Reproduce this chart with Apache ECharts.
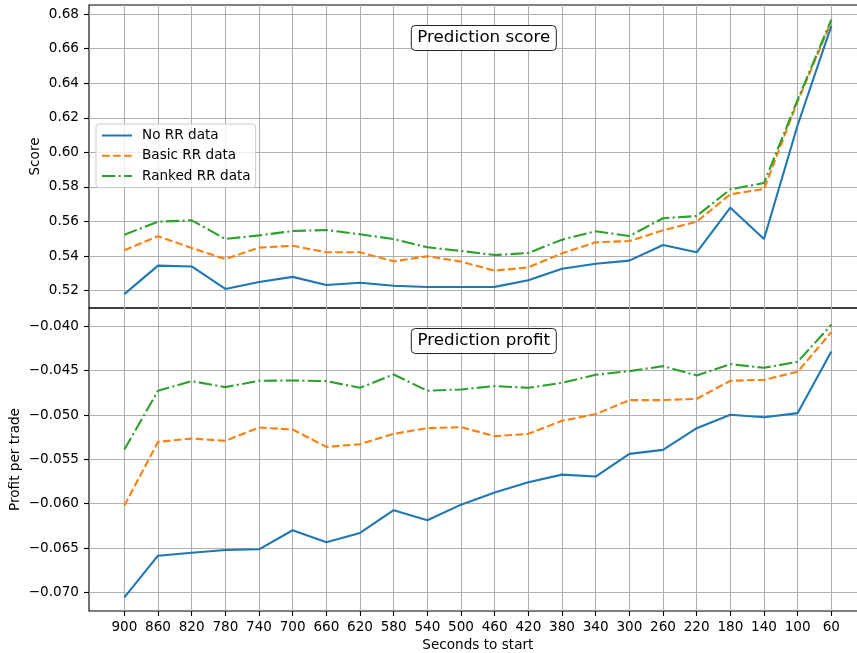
<!DOCTYPE html>
<html>
<head>
<meta charset="utf-8">
<script src="https://cdn.jsdelivr.net/npm/echarts@6/dist/echarts.min.js"></script>
<style>
  html, body { margin: 0; padding: 0; background: #fff; }
  #chart { width: 857px; height: 653px; }
</style>
</head>
<body>
<div id="chart"></div>
<script>
// Seconds before race start (x axis, shared by both panels)
const seconds = [900, 860, 820, 780, 740, 700, 660, 620, 580, 540, 500, 460, 420, 380, 340, 300, 260, 220, 180, 140, 100, 60];

// Prediction score per feature set
const scoreNoRR = [0.5180, 0.5345, 0.5340, 0.5210, 0.5250, 0.5280, 0.5233, 0.5246, 0.5229, 0.5221, 0.5221, 0.5222, 0.5260, 0.5327, 0.5356, 0.5374, 0.5464, 0.5422, 0.5680, 0.5499, 0.6158, 0.6731];
const scoreBasic = [0.5434, 0.5515, 0.5447, 0.5383, 0.5449, 0.5460, 0.5422, 0.5422, 0.5370, 0.5399, 0.5368, 0.5316, 0.5335, 0.5416, 0.5480, 0.5487, 0.5549, 0.5599, 0.5758, 0.5788, 0.6295, 0.6756];
const scoreRanked = [0.5524, 0.5599, 0.5607, 0.5499, 0.5520, 0.5545, 0.5551, 0.5526, 0.5499, 0.5451, 0.5430, 0.5406, 0.5418, 0.5495, 0.5544, 0.5516, 0.5619, 0.5632, 0.5786, 0.5823, 0.6305, 0.6767];

// Profit per trade per feature set
const profitNoRR = [-0.07057, -0.06587, -0.06553, -0.06522, -0.06515, -0.06300, -0.06435, -0.06330, -0.06074, -0.06187, -0.06011, -0.05875, -0.05758, -0.05672, -0.05694, -0.05438, -0.05393, -0.05148, -0.04997, -0.05024, -0.04978, -0.04282];
const profitBasic = [-0.06022, -0.05302, -0.05265, -0.05291, -0.05141, -0.05163, -0.05359, -0.05329, -0.05212, -0.05148, -0.05136, -0.05238, -0.05212, -0.05065, -0.04990, -0.04831, -0.04831, -0.04817, -0.04613, -0.04602, -0.04512, -0.04064];
const profitRanked = [-0.05389, -0.04726, -0.04617, -0.04685, -0.04613, -0.04610, -0.04617, -0.04692, -0.04542, -0.04726, -0.04711, -0.04673, -0.04692, -0.04636, -0.04546, -0.04504, -0.04448, -0.04553, -0.04425, -0.04467, -0.04399, -0.03981];

// Tick positions
const scoreTicks = [0.52, 0.54, 0.56, 0.58, 0.60, 0.62, 0.64, 0.66, 0.68];
const profitTicks = [-0.070, -0.065, -0.060, -0.055, -0.050, -0.045, -0.040];

const seriesNames = ['No RR data', 'Basic RR data', 'Ranked RR data'];
const colors = ['#1f77b4', '#ff7f0e', '#2ca02c'];
const dashes = ['solid', [7.7, 3.3], [13.3, 3.3, 2.1, 3.3]];

const FONT = 'DejaVu Sans';
const FS = 13.6;

const pair = vals => vals.map((v, i) => [seconds[i], v]);

function lineSeries(k, vals, gi) {
  return {
    name: seriesNames[k],
    type: 'line',
    xAxisIndex: gi,
    yAxisIndex: gi,
    data: pair(vals),
    showSymbol: false,
    symbol: 'none',
    color: colors[k],
    lineStyle: { color: colors[k], width: 2.1, type: dashes[k], cap: 'butt' },
    emphasis: { disabled: true },
    z: 3 + k
  };
}

const gridLine = { show: true, lineStyle: { color: '#b0b0b0', width: 1.1 } };
const tickStyle = { lineStyle: { color: '#000', width: 1.1 } };

function xAxis(gi, withLabels) {
  return {
    type: 'value',
    gridIndex: gi,
    inverse: true,
    min: 18,
    max: 942,
    axisLine: { show: false },
    axisTick: { show: withLabels, length: 5, customValues: seconds, ...tickStyle },
    axisLabel: {
      show: withLabels, customValues: seconds, margin: 9,
      color: '#000', fontFamily: FONT, fontSize: FS,
      formatter: v => String(v)
    },
    splitLine: gridLine,
    name: withLabels ? 'Seconds to start' : '',
    nameLocation: 'middle',
    nameGap: 27,
    nameMoveOverlap: false,
    nameTextStyle: { color: '#000', fontFamily: FONT, fontSize: FS }
  };
}

function yAxis(gi, min, max, ticks, fmt, name, gap) {
  return {
    type: 'value',
    gridIndex: gi,
    min: min,
    max: max,
    axisLine: { show: false },
    axisTick: { show: true, length: 5, customValues: ticks, ...tickStyle },
    axisLabel: {
      customValues: ticks, margin: 10,
      color: '#000', fontFamily: FONT, fontSize: FS,
      formatter: fmt
    },
    splitLine: gridLine,
    name: name,
    nameLocation: 'middle',
    nameRotate: 90,
    nameGap: gap,
    nameMoveOverlap: false,
    nameTextStyle: { color: '#000', fontFamily: FONT, fontSize: FS }
  };
}

const titleBox = (text, top) => ({
  text: text,
  left: 477.8,
  top: top,
  textAlign: 'center',
  padding: [4, 6, 4, 6],
  borderColor: '#222',
  borderWidth: 1,
  borderRadius: 4,
  backgroundColor: 'rgba(255,255,255,0.9)',
  textStyle: { color: '#000', fontFamily: FONT, fontSize: 16.7, fontWeight: 'normal', lineHeight: 18 }
});

// Plot area spans past the right edge of the canvas (the right frame is cut off)
const PLOT_LEFT = 89;
const PLOT_WIDTH = 777.7;

const gridBase = {
  left: PLOT_LEFT, width: PLOT_WIDTH, height: 303,
  containLabel: false, outerBoundsMode: 'none',
  show: true, borderColor: '#000', borderWidth: 1.1, backgroundColor: 'transparent'
};

const chart = echarts.init(document.getElementById('chart'), null, { renderer: 'canvas' });

chart.setOption({
  animation: false,
  backgroundColor: '#fff',
  title: [titleBox('Prediction score', 25), titleBox('Prediction profit', 328)],
  legend: {
    data: seriesNames,
    orient: 'vertical',
    left: 96,
    top: 124,
    itemWidth: 30,
    itemHeight: 14,
    itemGap: 6.3,
    padding: [4.5, 5, 4.5, 5],
    borderColor: '#cccccc',
    borderWidth: 1,
    borderRadius: 3,
    backgroundColor: 'rgba(255,255,255,0.8)',
    itemStyle: { opacity: 0 },
    textStyle: { color: '#000', fontFamily: FONT, fontSize: FS, padding: [0, 0, 0, 5] },
    selectedMode: false
  },
  grid: [
    { ...gridBase, top: 5 },
    { ...gridBase, top: 308 }
  ],
  xAxis: [xAxis(0, false), xAxis(1, true)],
  yAxis: [
    yAxis(0, 0.5100, 0.6852, scoreTicks, v => v.toFixed(2), 'Score', 47),
    yAxis(1, -0.07211, -0.03792, profitTicks, v => v.toFixed(3).replace('-', '\u2212'), 'Profit per trade', 67)
  ],
  series: [
    lineSeries(0, scoreNoRR, 0),
    lineSeries(1, scoreBasic, 0),
    lineSeries(2, scoreRanked, 0),
    lineSeries(0, profitNoRR, 1),
    lineSeries(1, profitBasic, 1),
    lineSeries(2, profitRanked, 1)
  ]
});
</script>
</body>
</html>
